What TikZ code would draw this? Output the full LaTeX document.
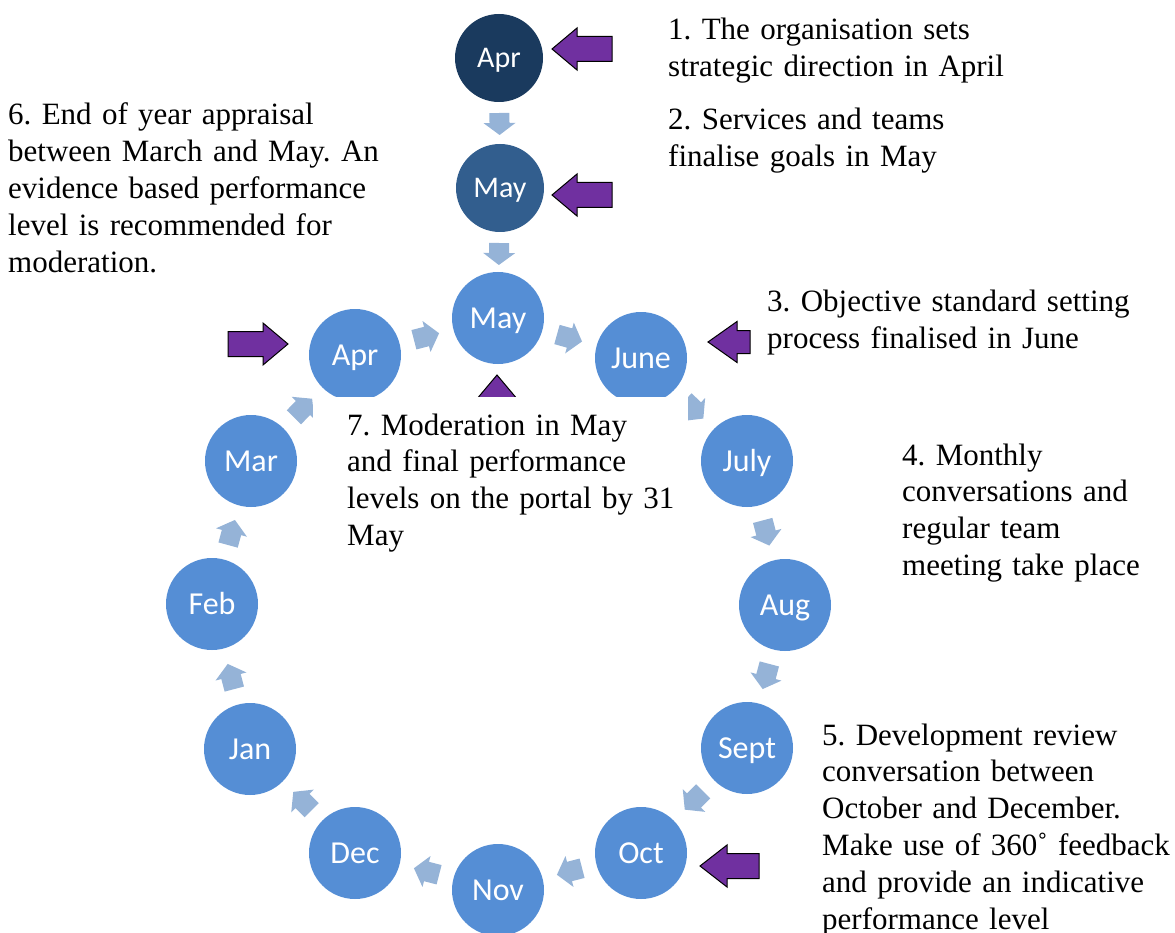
\documentclass[tikz,border=0pt]{standalone}
\usepackage{fontspec}
\setmainfont{Liberation Serif}
\newfontfamily\calib{Carlito}
\usetikzlibrary{calc}
\definecolor{topapr}{HTML}{1A3A5E}
\definecolor{topmay}{HTML}{325E8E}
\definecolor{cyc}{HTML}{558ED5}
\definecolor{lightarr}{HTML}{95B3D7}
\definecolor{purp}{HTML}{7030A0}
\newcommand\flow[3]{\path let \p1=(#1.center), \p2=(#2.center), \n1={atan2(\y2-\y1,\x2-\x1)} in ($(\p1)!0.5!(\p2)$) pic[rotate=\n1]{barrow=#3};}
\frenchspacing
\begin{document}
\begin{tikzpicture}[x=1pt,y=-1pt,
 month/.style={circle, fill=cyc, minimum size=92pt, inner sep=0pt, text=white, font=\calib\fontsize{32}{32}\selectfont, text height=20.5pt, text depth=0pt},
 topmonth/.style={month, minimum size=88pt, font=\calib\fontsize{30}{30}\selectfont, text height=19.3pt},
 note/.style={anchor=base west, inner sep=0pt, text width=600pt, align=left, font=\frenchspacing\fontsize{31}{36.8}\selectfont},
 pics/barrow/.style 2 args={code={\fill[lightarr] (-#1,-10) -- (0,-10) -- (0,-16) -- (#2,0) -- (0,16) -- (0,10) -- (-#1,10) -- cycle;}},
 pics/parrow/.style n args={4}{code={\draw[fill=purp, draw=black, line width=1pt, line join=miter] (0,0) -- (#2,-#3) -- (#2,-#4) -- (#1,-#4) -- (#1,#4) -- (#2,#4) -- (#2,#3) -- cycle;}},
]
\useasboundingbox (0,0) rectangle (1175,933);
% top circles
\node[topmonth, fill=topapr] (aprT) at (499,58) {Apr};
\node[topmonth, fill=topmay] (mayT) at (500,188) {May};
% cycle
\node[month] (may) at (498,318) {May};
\node[month] (june) at (641,358) {June};
\node[month] (july) at (747,461) {July};
\node[month] (aug) at (785,605) {Aug};
\node[month] (sept) at (747,748) {Sept};
\node[month] (oct) at (641,853) {Oct};
\node[month] (nov) at (498,890) {Nov};
\node[month] (dec) at (355,853) {Dec};
\node[month] (jan) at (250,749) {Jan};
\node[month] (feb) at (212,604) {Feb};
\node[month] (mar) at (251,461) {Mar};
\node[month] (apr) at (355,355) {Apr};
% flow arrows
\flow{aprT}{mayT}{{10}{12}}
\flow{mayT}{may}{{10}{12}}
\flow{may}{june}{{13}{13}}
\flow{june}{july}{{13}{13}}
\flow{july}{aug}{{13}{13}}
\flow{aug}{sept}{{13}{13}}
\flow{sept}{oct}{{13}{13}}
\flow{oct}{nov}{{13}{13}}
\flow{nov}{dec}{{13}{13}}
\flow{dec}{jan}{{13}{13}}
\flow{jan}{feb}{{13}{13}}
\flow{feb}{mar}{{13}{13}}
\flow{mar}{apr}{{13}{13}}
\flow{apr}{may}{{13}{13}}
% purple pointers
\pic at (552,49) {parrow={60}{25}{21}{12.5}};
\pic at (552,195) {parrow={60}{25}{21}{12.5}};
\pic at (708,342) {parrow={42}{29}{20.5}{11.5}};
\pic at (700,866) {parrow={59}{27}{21}{12.5}};
\pic[rotate=180] at (288,344) {parrow={60}{25}{21}{12.5}};
\pic[rotate=-90] at (497,375) {parrow={60}{25}{21}{12.5}};
% white text box of note 7
\node[fill=white, inner sep=0pt, minimum width=375pt, minimum height=170pt, anchor=north west] (box7) at (313,397) {};
% notes
\node[note] (t1) at (668,40) {1. The organisation sets\\strategic direction in April};
\node[note] (t2) at (668,130) {2. Services and teams\\finalise goals in May};
\node[note] (t3) at (767,312) {3. Objective standard setting\\process finalised in June};
\node[note] (t4) at (902,465) {4. Monthly\\conversations and\\regular team\\meeting take place};
\node[note] (t5) at (822,745) {5. Development review\\conversation between\\October and December.\\Make use of 360˚ feedback\\and provide an indicative\\performance level};
\node[note] (t6) at (8,125) {6. End of year appraisal\\between March and May. An\\evidence based performance\\level is recommended for\\moderation.};
\node[note] (t7) at (347,435) {7. Moderation in May\\and final performance\\levels on the portal by 31\\May};
\end{tikzpicture}
\end{document}
